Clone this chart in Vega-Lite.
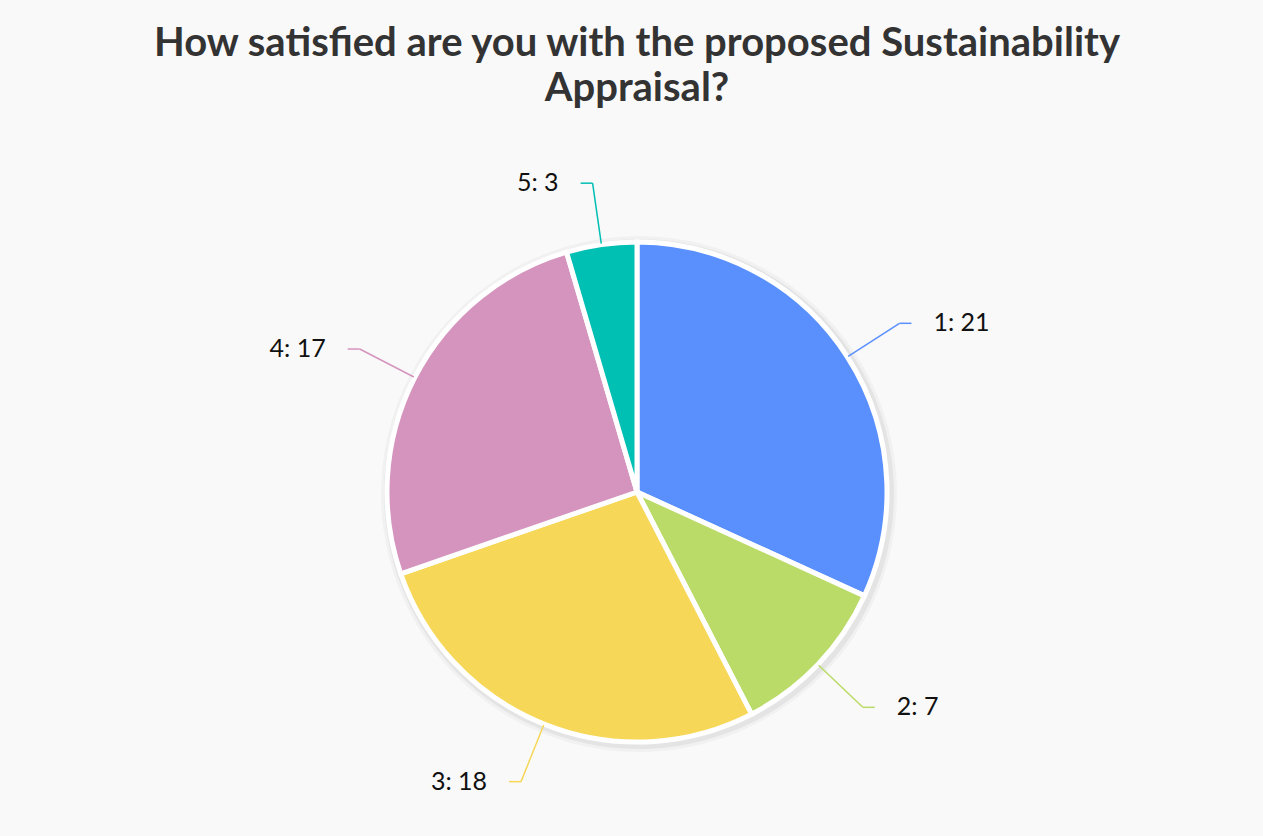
{
  "$schema": "https://vega.github.io/schema/vega-lite/v6.json",
  "width": 1252,
  "height": 688,
  "autosize": {"type": "none"},
  "padding": {"left": 11, "top": 148, "right": 0, "bottom": 0},
  "background": "#f9f9f9",
  "title": {
    "text": ["How satisfied are you with the proposed Sustainability", "Appraisal?"],
    "font": "Lato",
    "fontSize": 40,
    "fontWeight": "bold",
    "color": "#333333",
    "anchor": "middle",
    "offset": 39,
    "lineHeight": 45
  },
  "config": {"view": {"stroke": null}},
  "data": {
    "values": [
      {"rating": "1", "count": 21},
      {"rating": "2", "count": 7},
      {"rating": "3", "count": 18},
      {"rating": "4", "count": 17},
      {"rating": "5", "count": 3}
    ]
  },
  "transform": [
    {"joinaggregate": [{"op": "sum", "field": "count", "as": "total"}]},
    {"window": [{"op": "sum", "field": "count", "as": "cum"}], "sort": [{"field": "rating"}], "frame": [null, 0]},
    {"calculate": "2*PI*(datum.cum - datum.count/2)/datum.total", "as": "mid"},
    {"calculate": "sin(datum.mid)", "as": "sx"},
    {"calculate": "cos(datum.mid)", "as": "cy"},
    {"calculate": "datum.sx >= 0 ? 1 : -1", "as": "side"},
    {"calculate": "251*datum.sx", "as": "lx1"},
    {"calculate": "251*datum.cy", "as": "ly1"},
    {"calculate": "312*datum.sx", "as": "lx2"},
    {"calculate": "312*datum.cy", "as": "ly2"},
    {"calculate": "datum.lx2 + 12*datum.side", "as": "lx3"},
    {"calculate": "datum.lx2 + 34*datum.side", "as": "tx"},
    {"calculate": "datum.rating + ': ' + datum.count", "as": "label"}
  ],
  "layer": [
    {
      "mark": {"type": "arc", "outerRadius": 258, "fill": "#000000", "opacity": 0.03, "xOffset": 2, "yOffset": 2},
      "encoding": {"theta": {"field": "count", "type": "quantitative", "stack": true}}
    },
    {
      "mark": {"type": "arc", "outerRadius": 255, "fill": "#000000", "opacity": 0.05, "xOffset": 2, "yOffset": 2},
      "encoding": {"theta": {"field": "count", "type": "quantitative", "stack": true}}
    },
    {
      "mark": {"type": "arc", "outerRadius": 250, "stroke": "#ffffff", "strokeWidth": 5},
      "encoding": {
        "theta": {"field": "count", "type": "quantitative", "stack": true},
        "color": {
          "field": "rating",
          "type": "nominal",
          "scale": {"domain": ["1", "2", "3", "4", "5"], "range": ["#5990fd", "#badb67", "#f7d757", "#d594bd", "#00bfb3"]},
          "legend": null
        }
      }
    },
    {
      "mark": {"type": "rule", "strokeWidth": 1.5},
      "encoding": {
        "x": {"field": "lx1", "type": "quantitative", "scale": {"domain": [-626, 626], "nice": false, "zero": false}, "axis": null},
        "y": {"field": "ly1", "type": "quantitative", "scale": {"domain": [-344, 344], "nice": false, "zero": false}, "axis": null},
        "x2": {"field": "lx2"},
        "y2": {"field": "ly2"},
        "color": {"field": "rating", "type": "nominal", "legend": null}
      }
    },
    {
      "mark": {"type": "rule", "strokeWidth": 1.5},
      "encoding": {
        "x": {"field": "lx2", "type": "quantitative", "axis": null},
        "y": {"field": "ly2", "type": "quantitative", "axis": null},
        "x2": {"field": "lx3"},
        "color": {"field": "rating", "type": "nominal", "legend": null}
      }
    },
    {
      "transform": [{"filter": "datum.side > 0"}],
      "mark": {"type": "text", "align": "left", "baseline": "middle", "font": "Lato", "fontSize": 25, "color": "#111111"},
      "encoding": {
        "x": {"field": "tx", "type": "quantitative", "axis": null},
        "y": {"field": "ly2", "type": "quantitative", "axis": null},
        "text": {"field": "label"}
      }
    },
    {
      "transform": [{"filter": "datum.side < 0"}],
      "mark": {"type": "text", "align": "right", "baseline": "middle", "font": "Lato", "fontSize": 25, "color": "#111111"},
      "encoding": {
        "x": {"field": "tx", "type": "quantitative", "axis": null},
        "y": {"field": "ly2", "type": "quantitative", "axis": null},
        "text": {"field": "label"}
      }
    }
  ]
}
